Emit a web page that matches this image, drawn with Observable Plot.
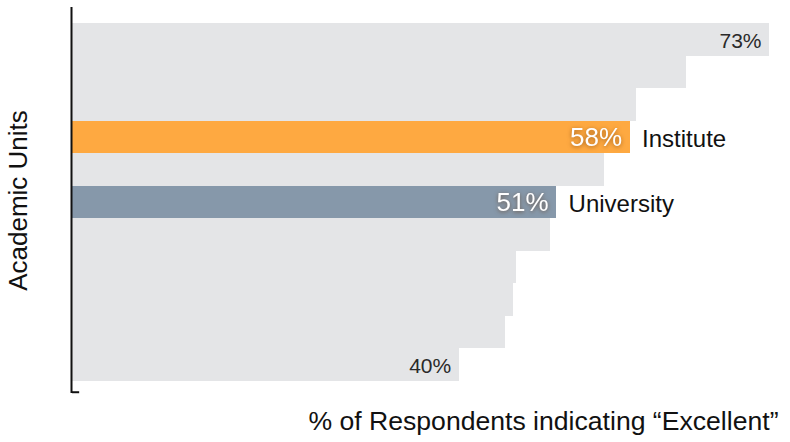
<!DOCTYPE html>
<html>
<head>
<meta charset="utf-8">
<script src="https://cdn.jsdelivr.net/npm/d3@7"></script>
<script src="https://cdn.jsdelivr.net/npm/@observablehq/plot@0.6"></script>
<style>
  html, body { margin: 0; padding: 0; background: #fff; }
  svg { font-family: "Liberation Sans", Arial, sans-serif; }
  g.shadowed { filter: drop-shadow(0px 1px 2px rgba(90,40,0,0.55)); }
</style>
</head>
<body>
<div id="chart"></div>
<script>
const units = ["Unit 1","Unit 2","Unit 3","Institute","Unit 5","University","Unit 7","Unit 8","Unit 9","Unit 10","Unit 11"];
const values = [73, 64.3, 59.1, 58.4, 55.7, 50.7, 50.1, 46.5, 46.2, 45.3, 40.5];
const fills = ["#e4e5e7","#e4e5e7","#e4e5e7","#fea941","#e4e5e7","#8698aa","#e4e5e7","#e4e5e7","#e4e5e7","#e4e5e7","#e4e5e7"];
const valueLabels = ["73%","","","58%","","51%","","","","","40%"];
const nameLabels = ["","","","Institute","","University","","","","",""];
const yTitle = "Academic Units";
const xTitle = "% of Respondents indicating \u201cExcellent\u201d";

const rows = units.map((u, i) => ({unit: u, value: values[i], fill: fills[i], vlabel: valueLabels[i], name: nameLabels[i]}));
const highlighted = rows.filter(d => d.name !== "");
const plain = rows.filter(d => d.name === "" && d.vlabel !== "");

const chart = Plot.plot({
  width: 790,
  height: 442,
  marginLeft: 72,
  marginRight: 21,
  marginTop: 23,
  marginBottom: 61,
  x: {domain: [0, 73], axis: null},
  y: {domain: units, axis: null, padding: 0, round: false},
  marks: [
    Plot.barX(rows, {x: "value", y: "unit", fill: "fill", shapeRendering: "crispEdges"}),
    Plot.ruleX([0], {stroke: "#111", strokeWidth: 2, dx: -1, insetTop: -16, insetBottom: -12}),
    Plot.ruleY([units[units.length - 1]], {x1: 0, x2: 0.75, y: d => d, stroke: "#111", strokeWidth: 2, dy: 27}),
    Plot.text(plain, {x: "value", y: "unit", text: "vlabel", textAnchor: "end", dx: -8, dy: 1, fill: "#2a2a2a", fontSize: 21}),
    Plot.text(highlighted, {x: "value", y: "unit", text: "vlabel", textAnchor: "end", dx: -8, dy: 0, fill: "white", fontSize: 26, className: "shadowed"}),
    Plot.text(highlighted, {x: "value", y: "unit", text: "name", textAnchor: "start", dx: 12, dy: 2, fill: "#111", fontSize: 24}),
    Plot.text([yTitle], {frameAnchor: "left", text: d => d, rotate: -90, dx: -54, dy: -2, fill: "#111", fontSize: 26, textAnchor: "middle"}),
    Plot.text([xTitle], {frameAnchor: "bottom-right", text: d => d, textAnchor: "end", dx: 9, dy: 48, fill: "#111", fontSize: 26.6})
  ]
});
document.getElementById("chart").appendChild(chart);
</script>
</body>
</html>
